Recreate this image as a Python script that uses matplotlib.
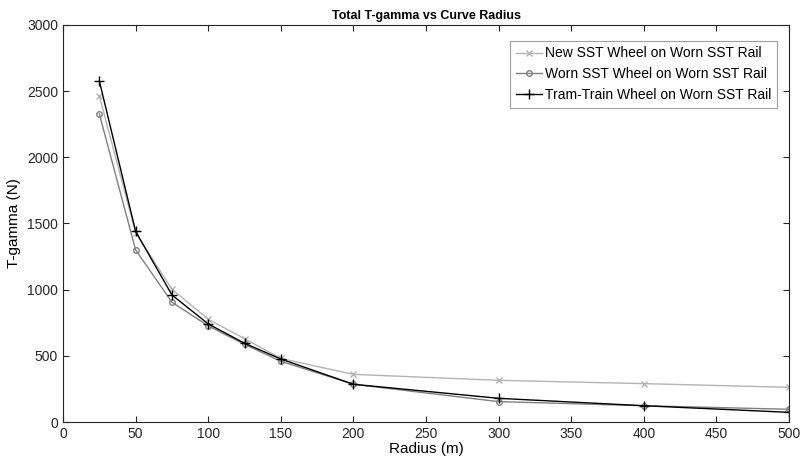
import numpy as np
import matplotlib.pyplot as plt

plt.rcParams['font.family'] = ['Liberation Sans', 'DejaVu Sans']
plt.rcParams['font.size'] = 10

radius = [25, 50, 75, 100, 125, 150, 200, 300, 400, 500]
new_sst = [2464, 1430, 1003, 776, 630, 480, 360, 315, 290, 262]
worn_sst = [2328, 1300, 905, 726, 587, 459, 285, 154, 123, 96]
tram_train = [2577, 1440, 960, 741, 595, 476, 285, 179, 123, 73]

fig = plt.figure(figsize=(8.03, 4.66), dpi=100)
ax = fig.add_axes([0.0785, 0.0944, 0.9041, 0.852])

ax.plot(radius, new_sst, color='#b4b4b4', marker='x', markersize=4, lw=1,
        label='New SST Wheel on Worn SST Rail')
ax.plot(radius, worn_sst, color='#808080', marker='o', markersize=4, lw=1,
        markerfacecolor='none', label='Worn SST Wheel on Worn SST Rail')
ax.plot(radius, tram_train, color='black', marker='+', markersize=7, lw=1,
        label='Tram-Train Wheel on Worn SST Rail')

ax.set_xlim(0, 500)
ax.set_ylim(0, 3000)
ax.set_xticks(np.arange(0, 501, 50))
ax.set_yticks(np.arange(0, 3001, 500))
ax.tick_params(direction='in', top=True, right=True, length=4, colors='#262626')
for s in ax.spines.values():
    s.set_color('#262626')
ax.set_xlabel('Radius (m)', fontsize=11, labelpad=1)
ax.set_ylabel('T-gamma (N)', fontsize=11)
ax.set_title('Total T-gamma vs Curve Radius', fontsize=9, fontweight='bold', pad=4)

leg = ax.legend(loc='upper right', bbox_to_anchor=(0.9835, 0.96), borderaxespad=0,
                fancybox=False, edgecolor='#a0a0a0', framealpha=1, fontsize=10,
                handlelength=1.9, handletextpad=0.2, borderpad=0.4, labelspacing=0.5)
leg.get_frame().set_linewidth(0.8)

fig.savefig('out.png', dpi=100)
